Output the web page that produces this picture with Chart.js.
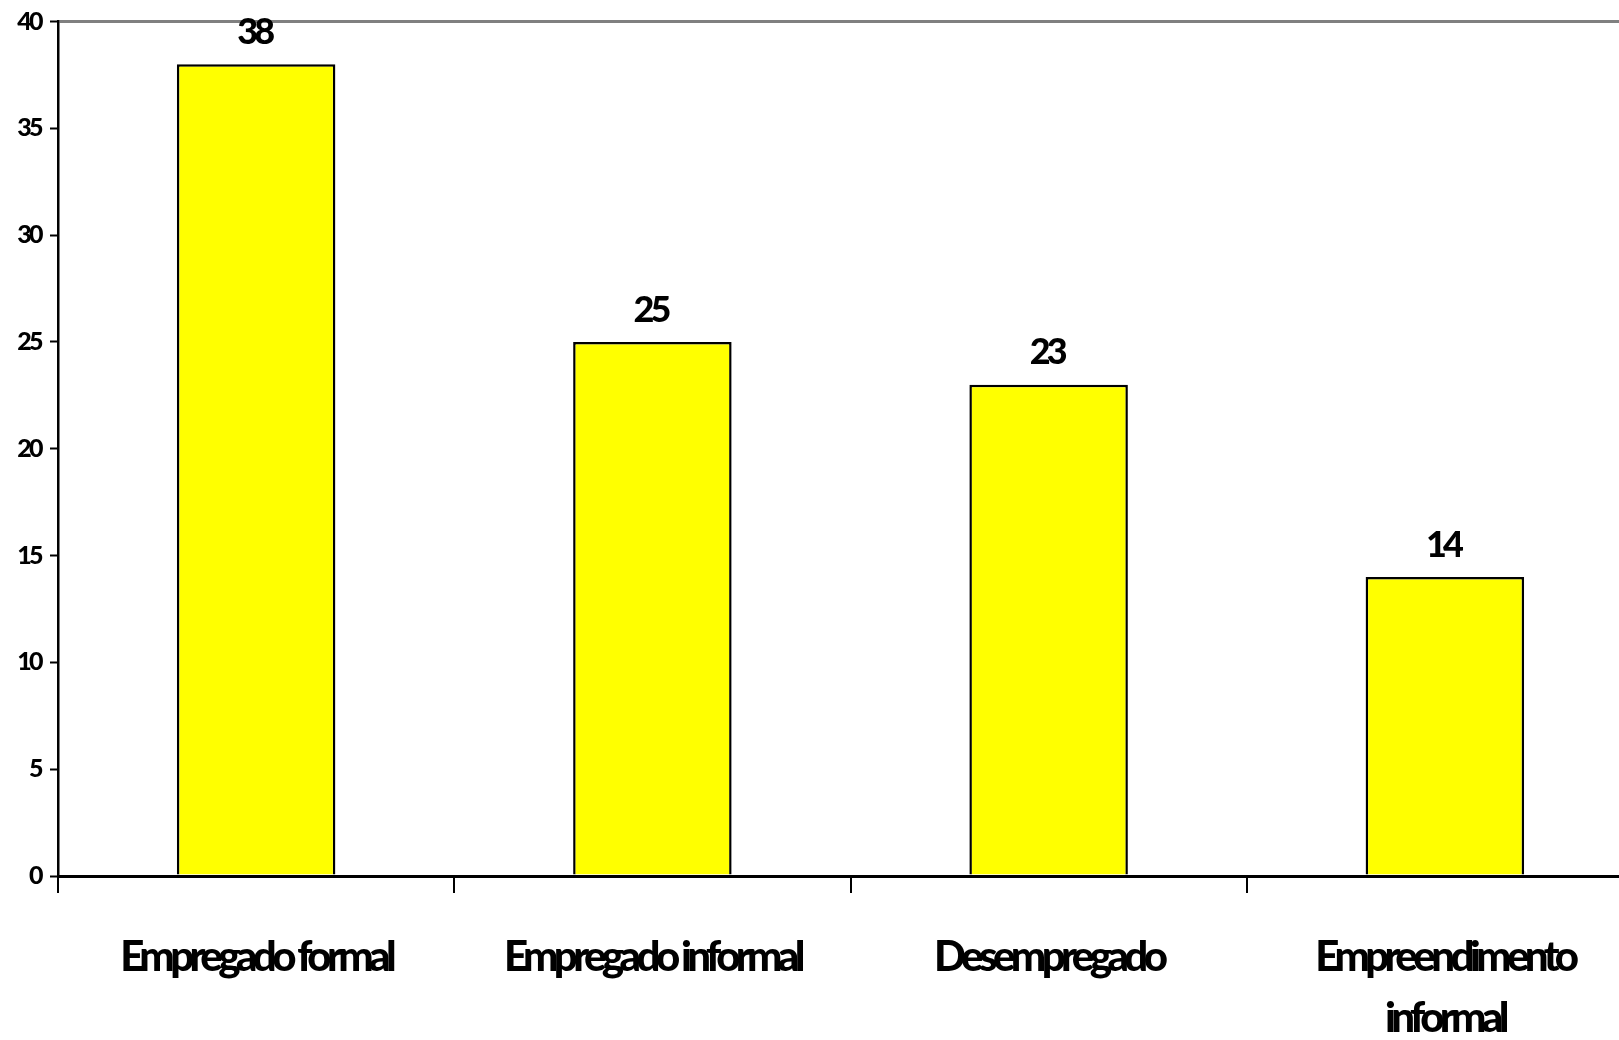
<!DOCTYPE html>
<html>
<head>
<meta charset="utf-8">
<script src="https://cdn.jsdelivr.net/npm/chart.js@4/dist/chart.umd.min.js"></script>
<style>
  html, body { margin: 0; padding: 0; background: #fff; overflow: hidden; }
  #wrap { width: 1660px; height: 1040px; }
</style>
</head>
<body>
<div id="wrap"><canvas id="c" width="1660" height="1040"></canvas></div>
<script>
// Situação ocupacional (%)
const categories = ['Empregado formal', 'Empregado informal', 'Desempregado', ['Empreendimento', 'informal']];
const values = [38, 25, 23, 14];
const yTicks = [0, 5, 10, 15, 20, 25, 30, 35, 40];

const FONT = 'Lato, "Open Sans", sans-serif';
const WEIGHT = '900';

// Tight letter spacing for each scale's labels
const labelSpacing = { x: '-4.6px', y: '-2.6px' };

const tightLabels = {
  id: 'tightLabels',
  beforeDraw(chart) {
    Object.keys(labelSpacing).forEach(id => {
      const scale = chart.scales[id];
      if (!scale || scale._tightWrapped) return;
      const orig = scale.drawLabels;
      scale.drawLabels = function (area) {
        const ctx = this.ctx;
        ctx.save();
        ctx.letterSpacing = labelSpacing[id];
        orig.call(this, area);
        ctx.restore();
      };
      scale._tightWrapped = true;
    });
  }
};

// Value labels above each bar
const valueLabels = {
  id: 'valueLabels',
  afterDatasetsDraw(chart) {
    const ctx = chart.ctx;
    const meta = chart.getDatasetMeta(0);
    ctx.save();
    ctx.font = WEIGHT + ' 36px ' + FONT;
    ctx.fillStyle = '#000';
    ctx.textAlign = 'center';
    ctx.textBaseline = 'bottom';
    ctx.letterSpacing = '-4px';
    meta.data.forEach((bar, i) => {
      ctx.fillText(String(values[i]), bar.x - 2, bar.y - 14);
    });
    ctx.restore();
  }
};

new Chart(document.getElementById('c'), {
  type: 'bar',
  data: {
    labels: categories,
    datasets: [{
      data: values,
      backgroundColor: '#FFFF00',
      borderColor: '#000000',
      borderWidth: 2.5,
      categoryPercentage: 1,
      barPercentage: 0.4
    }]
  },
  options: {
    responsive: false,
    animation: false,
    layout: { padding: { top: 21, right: 17, left: 0, bottom: 0 } },
    plugins: { legend: { display: false }, tooltip: { enabled: false } },
    scales: {
      x: {
        grid: {
          offset: true,
          drawOnChartArea: false,
          drawTicks: true,
          tickLength: 17,
          tickColor: '#000',
          tickWidth: 2,
          lineWidth: 2,
          color: '#000'
        },
        border: { display: true, color: '#000', width: 3 },
        ticks: {
          color: '#000',
          font: { family: FONT, size: 42, weight: WEIGHT, lineHeight: 1.45 },
          padding: 34,
          maxRotation: 0,
          autoSkip: false
        },
        afterFit(scale) { scale.height = 164; }
      },
      y: {
        min: 0,
        max: 40,
        afterBuildTicks(scale) { scale.ticks = yTicks.map(v => ({ value: v })); },
        grid: {
          drawOnChartArea: true,
          color: ctx => (ctx.tick && ctx.tick.value === 40 ? '#808080' : 'rgba(0,0,0,0)'),
          lineWidth: 3,
          tickLength: 8,
          tickColor: '#000',
          tickWidth: 2
        },
        border: { display: true, color: '#000', width: 2.5 },
        ticks: {
          color: '#000',
          font: { family: FONT, size: 25, weight: WEIGHT, lineHeight: 1 },
          padding: 9
        },
        afterFit(scale) { scale.width = 58; }
      }
    }
  },
  plugins: [tightLabels, valueLabels]
});
</script>
</body>
</html>
